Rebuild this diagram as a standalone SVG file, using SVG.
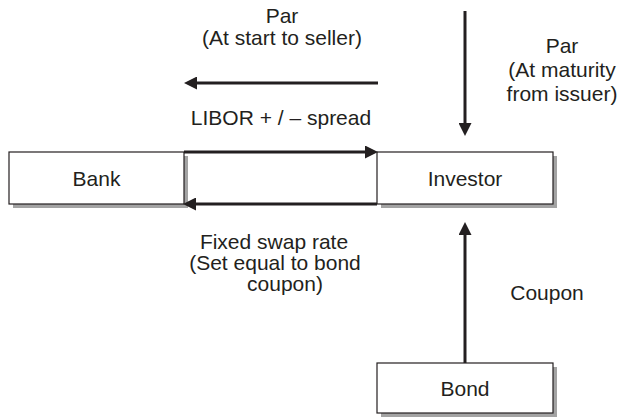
<svg xmlns="http://www.w3.org/2000/svg" width="620" height="417" viewBox="0 0 620 417">
  <style>
    .shadow { fill: #a3a3a3; }
    .box { fill: #ffffff; stroke: #231f20; stroke-width: 1.2; }
    .lbl { font-family: "Liberation Sans", Arial, sans-serif; font-size: 21px; fill: #231f20; text-anchor: middle; }
    .conn { stroke: #231f20; stroke-width: 3; fill: none; marker-end: url(#arrow); }
  </style>
  <defs>
    <marker id="arrow" markerUnits="userSpaceOnUse" markerWidth="13" markerHeight="13" refX="6" refY="6.5" orient="auto">
      <path d="M0,0 L13,6.5 L0,13 z" fill="#231f20"/>
    </marker>
  </defs>
  <rect width="620" height="417" fill="#ffffff"/>

  <g id="bank">
    <rect class="shadow" x="13" y="156" width="175" height="52"/>
    <rect class="box" x="9" y="152" width="175" height="52"/>
    <text class="lbl" x="96.5" y="186">Bank</text>
  </g>

  <g id="investor">
    <rect class="shadow" x="381" y="156" width="176" height="52"/>
    <rect class="box" x="377" y="152" width="176" height="52"/>
    <text class="lbl" x="465" y="186">Investor</text>
  </g>

  <g id="bond">
    <rect class="shadow" x="381" y="367" width="176" height="50"/>
    <rect class="box" x="377" y="363" width="176" height="50"/>
    <text class="lbl" x="465" y="396">Bond</text>
  </g>

  <g id="connectors">
    <line class="conn" x1="378" y1="83" x2="191" y2="83"/>
    <line class="conn" x1="184" y1="152" x2="371" y2="152"/>
    <line class="conn" x1="377" y1="204" x2="190" y2="204"/>
    <line class="conn" x1="465" y1="11" x2="465" y2="129"/>
    <line class="conn" x1="465" y1="363" x2="465" y2="229"/>
  </g>

  <g id="labels">
    <text class="lbl" x="282" y="23">Par</text>
    <text class="lbl" x="282" y="45">(At start to seller)</text>
    <text class="lbl" x="281" y="125">LIBOR + / – spread</text>
    <text class="lbl" x="562" y="53">Par</text>
    <text class="lbl" x="562" y="77">(At maturity</text>
    <text class="lbl" x="562" y="101">from issuer)</text>
    <text class="lbl" x="274" y="249">Fixed swap rate</text>
    <text class="lbl" x="275" y="270">(Set equal to bond</text>
    <text class="lbl" x="285" y="291">coupon)</text>
    <text class="lbl" x="547" y="300">Coupon</text>
  </g>
</svg>
